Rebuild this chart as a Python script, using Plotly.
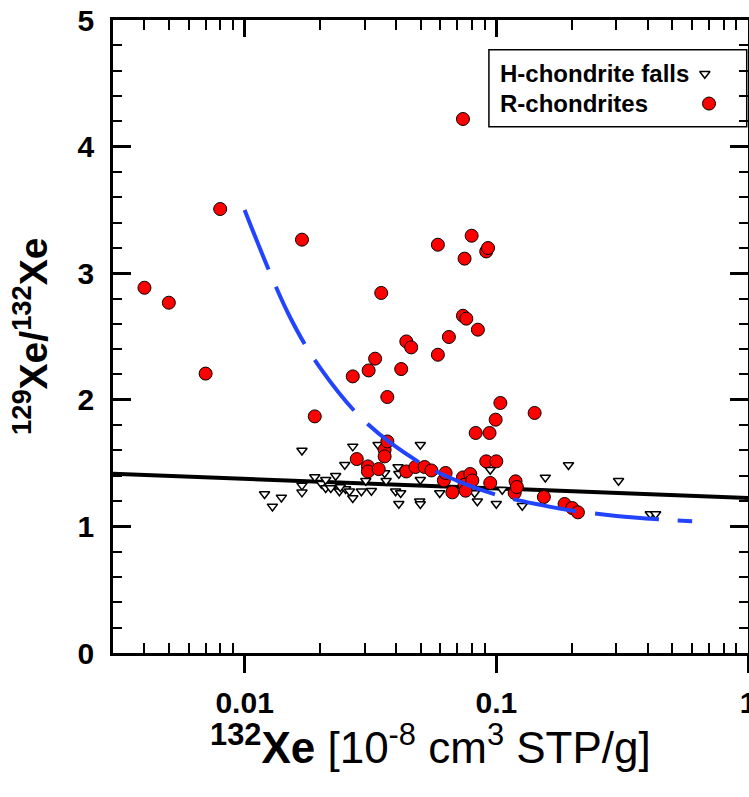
import plotly.graph_objects as go
import numpy as np

# R-chondrites (red circles)
r_x = [0.0040, 0.0050, 0.0070, 0.0080, 0.0169, 0.0190, 0.0269, 0.0279, 0.0309, 0.0309,
       0.0311, 0.0330, 0.0341, 0.0349, 0.0360, 0.0360, 0.0369, 0.0369, 0.0419, 0.0439,
       0.0439, 0.0459, 0.0477, 0.0519, 0.0552, 0.0586, 0.0586, 0.0619, 0.0629, 0.0648,
       0.0669, 0.0737, 0.0737, 0.0737, 0.0748, 0.0748, 0.0755, 0.0760, 0.0788, 0.0798,
       0.0803, 0.0828, 0.0845, 0.0912, 0.0912, 0.0927, 0.0940, 0.0946, 0.0994, 0.1000,
       0.1038, 0.1183, 0.1193, 0.1207, 0.1420, 0.1545, 0.1867, 0.2004, 0.2110]
r_y = [2.885, 2.767, 2.207, 3.507, 3.265, 1.869, 2.185, 1.532, 1.474, 1.434,
       2.232, 2.325, 1.453, 2.844, 1.606, 1.553, 2.022, 1.671, 2.243, 2.461,
       1.434, 2.414, 1.469, 1.469, 1.442, 3.225, 2.356, 1.363, 1.422, 2.496,
       1.269, 4.218, 2.664, 1.387, 3.115, 1.329, 1.282, 2.641, 1.414, 3.296,
       1.363, 1.738, 2.554, 3.172, 1.514, 3.199, 1.738, 1.343, 1.843, 1.514,
       1.975, 1.264, 1.356, 1.311, 1.896, 1.232, 1.177, 1.145, 1.111]

# H-chondrite falls (open down triangles)
h_x = [0.0120, 0.0129, 0.0140, 0.0169, 0.0169, 0.0169, 0.0190, 0.0202, 0.0210, 0.0210,
       0.0220, 0.0230, 0.0238, 0.0238, 0.0250, 0.0252, 0.0240, 0.0261, 0.0269, 0.0269,
       0.0291, 0.0303, 0.0319, 0.0339, 0.0360, 0.0365, 0.0398, 0.0407, 0.0410, 0.0410,
       0.0417, 0.0496, 0.0499, 0.0499, 0.0499, 0.0596, 0.0820, 0.0841, 0.0946, 0.1000,
       0.1056, 0.1268, 0.1566, 0.1935, 0.3060, 0.4090, 0.4296]
h_y = [1.256, 1.158, 1.229, 1.600, 1.324, 1.269, 1.390, 1.337, 1.369, 1.303,
       1.303, 1.400, 1.295, 1.277, 1.487, 1.295, 1.311, 1.277, 1.632, 1.224,
       1.277, 1.361, 1.282, 1.645, 1.422, 1.361, 1.277, 1.469, 1.416, 1.179,
       1.264, 1.198, 1.645, 1.369, 1.177, 1.264, 1.264, 1.198, 1.448, 1.179,
       1.290, 1.163, 1.387, 1.485, 1.361, 1.098, 1.098]

# black reference line
line_x = [0.003, 1.0]
line_y = [1.416, 1.224]

# blue dashed mixing curve
mix_x = [0.010, 0.015, 0.020, 0.030, 0.050, 0.070, 0.100, 0.150, 0.200, 0.300, 0.450, 0.600]
mix_y = [3.50, 2.67, 2.25, 1.83, 1.50, 1.36, 1.25, 1.17, 1.125, 1.083, 1.055, 1.04]

x_tickvals = [0.01, 0.1, 1]
x_ticktext = ["0.01", "0.1", "1"]
x_minor = [0.004, 0.005, 0.006, 0.007, 0.008, 0.009,
           0.02, 0.03, 0.04, 0.05, 0.06, 0.07, 0.08, 0.09,
           0.2, 0.3, 0.4, 0.5, 0.6, 0.7, 0.8, 0.9]
y_tickvals = [0, 1, 2, 3, 4, 5]

FONT = "Liberation Sans, Arial, sans-serif"

fig = go.Figure()
fig.add_trace(go.Scatter(x=line_x, y=line_y, mode="lines",
                         line=dict(color="black", width=4), showlegend=False))
fig.add_trace(go.Scatter(x=h_x, y=h_y, mode="markers",
                         marker=dict(symbol="triangle-down", size=9, color="white",
                                     line=dict(color="black", width=1.5)),
                         showlegend=False))
fig.add_trace(go.Scatter(x=r_x, y=r_y, mode="markers",
                         marker=dict(symbol="circle", size=13, color="#ff0000",
                                     line=dict(color="black", width=1)),
                         showlegend=False))
fig.add_trace(go.Scatter(x=mix_x, y=mix_y, mode="lines",
                         line=dict(color="#2244ff", width=4, dash="64px,19px", shape="spline"),
                         showlegend=False))
# dummy trace to activate top axis
fig.add_trace(go.Scatter(x=[], y=[], xaxis="x2", yaxis="y", showlegend=False))
# legend markers on an overlay axis (paper-like coords)
fig.add_trace(go.Scatter(x=[0.932], y=[0.915], xaxis="x3", yaxis="y3", mode="markers",
                         marker=dict(symbol="triangle-down", size=9, color="white",
                                     line=dict(color="black", width=1.5)),
                         showlegend=False, hoverinfo="skip"))
fig.add_trace(go.Scatter(x=[0.9386], y=[0.868], xaxis="x3", yaxis="y3", mode="markers",
                         marker=dict(symbol="circle", size=13, color="#ff0000",
                                     line=dict(color="black", width=1)),
                         showlegend=False, hoverinfo="skip"))

xr = [np.log10(0.003), 0]
fig.update_layout(
    width=749, height=797,
    margin=dict(l=113, r=1, t=20, b=144, autoexpand=False),
    paper_bgcolor="white", plot_bgcolor="white",
    showlegend=False,
    font=dict(family=FONT, color="black"),
    xaxis=dict(type="log", range=xr, tickmode="array", tickvals=x_tickvals, ticktext=x_ticktext,
               ticks="outside", ticklen=17, tickwidth=3, tickcolor="black",
               tickfont=dict(size=30, family=FONT, weight="bold"),
               ticklabelstandoff=4, ticklabeloverflow="allow", automargin=False,
               minor=dict(tickmode="array", tickvals=x_minor, ticks="inside", ticklen=10,
                          tickwidth=2, tickcolor="black", showgrid=False),
               showline=True, linecolor="black", linewidth=2.5, mirror=True,
               showgrid=False, zeroline=False),
    xaxis2=dict(type="log", range=xr, overlaying="x", side="top", tickmode="array",
                tickvals=x_tickvals, showticklabels=False, automargin=False,
                ticks="inside", ticklen=17, tickwidth=3, tickcolor="black",
                minor=dict(tickmode="array", tickvals=x_minor, ticks="inside", ticklen=10,
                           tickwidth=2, tickcolor="black", showgrid=False),
                showline=False, showgrid=False, zeroline=False),
    yaxis=dict(range=[0, 5], tickmode="array", tickvals=y_tickvals,
               ticktext=[f"<b>{v}</b>" for v in y_tickvals],
               ticks="inside", ticklen=18, tickwidth=3, tickcolor="black",
               tickfont=dict(size=30, family=FONT),
               ticklabelstandoff=10, automargin=False,
               minor=dict(dtick=0.2, ticks="inside", ticklen=9, tickwidth=2,
                          tickcolor="black", showgrid=False),
               showline=True, linecolor="black", linewidth=2.5, mirror="ticks",
               showgrid=False, zeroline=False),
    xaxis3=dict(range=[0, 1], overlaying="x", visible=False, showgrid=False, automargin=False),
    yaxis3=dict(range=[0, 1], overlaying="y", visible=False, showgrid=False, automargin=False),
)

# legend box
fig.add_shape(type="rect", xref="paper", yref="paper", x0=0.592, x1=0.998, y0=0.8315, y1=0.953,
              line=dict(color="black", width=1.5), fillcolor="rgba(0,0,0,0)")
fig.add_annotation(text="<b>H-chondrite falls</b>", xref="paper", yref="paper", x=0.6064, y=0.915,
                   xanchor="left", yanchor="middle", showarrow=False,
                   font=dict(size=24, family=FONT))
fig.add_annotation(text="<b>R-chondrites</b>", xref="paper", yref="paper", x=0.6064, y=0.868,
                   xanchor="left", yanchor="middle", showarrow=False,
                   font=dict(size=24, family=FONT))

# axis titles
fig.add_annotation(text="<b><sup>132</sup>Xe</b> [10<sup>-8</sup> cm<sup>3</sup> STP/g]",
                   xref="paper", yref="paper", x=0.5, y=-0.145, xanchor="center", yanchor="middle",
                   showarrow=False, font=dict(size=44, family=FONT))
fig.add_annotation(text="<b><sup>129</sup>Xe/<sup>132</sup>Xe</b>",
                   xref="paper", yref="paper", x=-0.13, y=0.5, xanchor="center", yanchor="middle",
                   textangle=-90, showarrow=False, font=dict(size=39, family=FONT))

fig.write_html("out.html", config={"displayModeBar": False},
               post_script="document.body.style.margin='0';document.body.style.overflow='hidden';")
